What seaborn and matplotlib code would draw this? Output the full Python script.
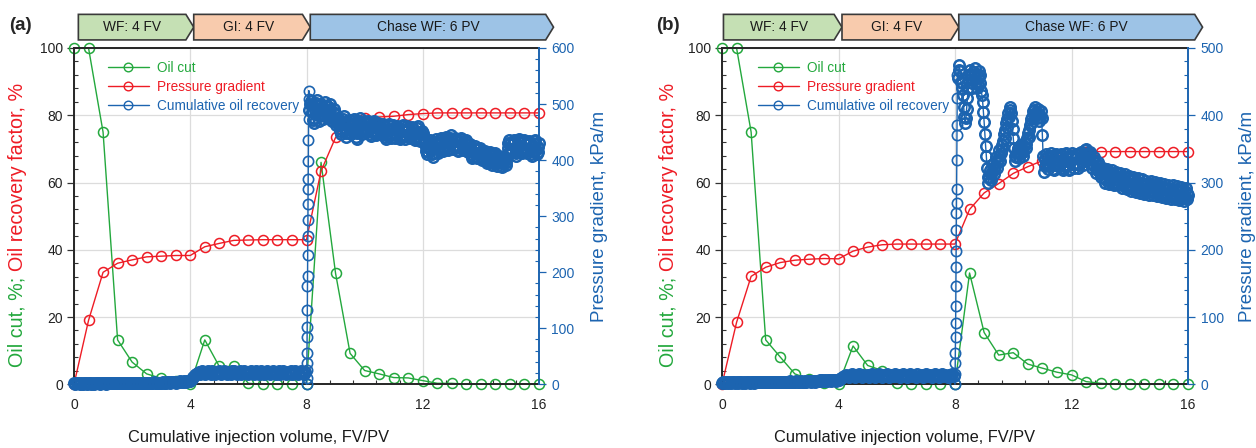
import numpy as np
import matplotlib
matplotlib.use("Agg")
import matplotlib.pyplot as plt
import matplotlib.transforms as mtransforms
from matplotlib.patches import Polygon
from matplotlib.lines import Line2D
from matplotlib.ticker import MultipleLocator
import seaborn as sns

sns.set_style("ticks")
plt.rcParams["font.family"] = ["Liberation Sans", "DejaVu Sans"]

GREEN = "#23a83d"
RED = "#ee1c25"
BLUE = "#1c64b0"

# Effluent samples, one every 0.5 FV/PV of injection
volume = np.round(np.arange(0, 16.01, 0.5), 2)

oil_cut_a = [100, 100, 75, 13.2, 6.6, 3.1, 1.8, 1.0, 0,
             13.2, 5.3, 5.3, 0.3, 0, 0, 0, 0,
             66, 33, 9.2, 4.1, 3.1, 2.0, 1.9, 1.1,
             0.3, 0.3, 0, 0, 0, 0, 0, 0]
recovery_a = [0, 19, 33.3, 36, 37, 37.9, 38.1, 38.3, 38.3,
              40.9, 41.9, 42.8, 42.9, 43, 43, 43, 43,
              63.4, 73.4, 77.5, 79.2, 79.5, 79.7, 80.2, 80.5,
              80.7, 80.7, 80.7, 80.7, 80.7, 80.7, 80.7, 80.7]
oil_cut_b = [100, 100, 75, 13.2, 8.1, 3.1, 1.5, 0.5, 0,
             11.4, 5.6, 4.1, 0.5, 0, 0, 0, 0,
             33.1, 15.4, 8.7, 9.4, 6.0, 4.8, 3.6, 2.8,
             0.8, 0.3, 0, 0, 0, 0, 0, 0]
recovery_b = [0, 18.4, 32.1, 34.8, 36.2, 36.9, 37.2, 37.4, 37.3,
              39.6, 40.8, 41.5, 41.7, 41.7, 41.7, 41.7, 41.7,
              52, 56.9, 59.7, 62.7, 64.7, 66.5, 67.9, 68.8,
              69.2, 69.2, 69.2, 69.2, 69.2, 69.2, 69.2, 69.2]

# Pressure gradient (kPa/m): WF + GI logged every 0.05 FV, a burst of readings
# at the switch to chase WF, then chase WF logged every 0.025 PV
dp_flood_a = [2, 1, 2, 2, 1, 2, 1, 2, 2, 1, 2, 2, 1, 2, 1, 2, 2, 2, 1, 2,
              2, 2, 1, 2, 2, 2, 3, 2, 2, 2, 2, 3, 2, 2, 3, 2, 2, 3, 2, 3,
              2, 3, 3, 2, 3, 3, 3, 2, 3, 3, 3, 3, 2, 3, 3, 4, 3, 3, 3, 3,
              3, 4, 3, 3, 4, 4, 3, 4, 4, 4, 3, 4, 4, 5, 4, 4, 5, 4, 5, 5,
              6, 9, 13, 16, 18, 20, 22, 19, 23, 21, 18, 22, 24, 20, 19, 23, 21, 18, 22, 20,
              23, 19, 21, 24, 20, 18, 22, 21, 19, 23, 24, 20, 18, 21, 23, 19, 22, 24, 20, 21,
              19, 22, 24, 20, 18, 23, 21, 19, 22, 24, 21, 18, 20, 23, 22, 19, 21, 24, 20, 18,
              22, 23, 19, 21, 24, 20, 18, 22, 21, 23, 19, 20, 24, 22, 18, 21, 23, 20, 19, 22]
dp_burst_a = [0, 11, 26, 38, 55, 85, 103, 133, 175, 193, 231,
              264, 294, 321, 348, 366, 399, 435, 473, 509, 524]
dp_chase_a = [490, 500, 505, 498, 485, 472, 466, 475, 490, 502, 508, 496, 480, 470, 478, 492, 500, 494, 482, 474,
              480, 492, 503, 497, 486, 476, 482, 494, 500, 490, 478, 470, 476, 486, 492, 484, 472, 462, 466, 476,
              470, 462, 452, 446, 455, 466, 474, 478, 468, 456, 448, 442, 450, 462, 472, 466, 454, 446, 452, 462,
              470, 474, 464, 452, 442, 438, 448, 460, 470, 475, 466, 454, 446, 452, 462, 470, 468, 458, 450, 456,
              464, 470, 466, 456, 447, 443, 450, 460, 468, 470, 462, 452, 445, 448, 458, 466, 464, 455, 447, 450,
              458, 464, 460, 450, 442, 438, 445, 455, 463, 465, 456, 446, 440, 444, 454, 462, 458, 448, 440, 446,
              454, 460, 458, 449, 441, 437, 444, 453, 460, 462, 454, 444, 438, 443, 452, 460, 457, 447, 440, 444,
              452, 459, 456, 447, 439, 435, 442, 451, 458, 460, 450, 440, 434, 438, 446, 452, 448, 440, 434, 430,
              424, 416, 410, 414, 424, 432, 436, 428, 418, 410, 406, 412, 422, 432, 438, 430, 420, 412, 418, 428,
              436, 440, 432, 422, 416, 420, 430, 438, 442, 436, 426, 418, 422, 432, 440, 444, 436, 426, 420, 426,
              434, 440, 436, 426, 418, 416, 424, 434, 440, 438, 428, 420, 418, 426, 434, 436, 428, 420, 414, 418,
              424, 428, 420, 410, 404, 406, 414, 422, 426, 420, 410, 403, 405, 413, 420, 422, 414, 405, 400, 404,
              412, 416, 410, 400, 394, 396, 404, 412, 414, 408, 398, 392, 394, 402, 410, 412, 404, 396, 390, 394,
              402, 408, 404, 396, 390, 388, 394, 402, 406, 400, 392, 396, 410, 422, 430, 436, 428, 418, 412, 418,
              428, 436, 432, 422, 412, 408, 416, 426, 434, 438, 430, 420, 412, 414, 424, 434, 436, 428, 418, 412,
              418, 428, 434, 430, 420, 410, 408, 416, 426, 434, 436, 428, 418, 410, 414, 424, 430]

dp_flood_b = [2, 3, 2, 3, 2, 3, 2, 3, 3, 2, 3, 2, 3, 3, 2, 3, 2, 3, 3, 2,
              3, 3, 2, 3, 3, 4, 3, 3, 4, 3, 3, 4, 3, 3, 4, 3, 4, 3, 3, 4,
              4, 3, 4, 4, 3, 4, 4, 5, 4, 4, 4, 5, 4, 4, 5, 4, 4, 5, 4, 5,
              5, 4, 5, 5, 4, 5, 5, 6, 5, 6, 5, 6, 5, 6, 6, 5, 6, 6, 5, 6,
              7, 8, 10, 11, 12, 14, 12, 11, 13, 15, 12, 11, 14, 13, 15, 12, 11, 14, 13, 12,
              14, 11, 13, 15, 12, 11, 14, 13, 15, 12, 11, 14, 12, 15, 13, 11, 14, 12, 13, 15,
              12, 14, 11, 13, 15, 12, 14, 11, 13, 15, 12, 14, 13, 11, 15, 12, 13, 14, 11, 13,
              15, 12, 13, 14, 11, 13, 15, 12, 14, 11, 13, 15, 12, 14, 13, 11, 14, 12, 15, 13]
dp_burst_b = [0, 16, 31, 46, 71, 91, 116, 146, 175, 198,
              230, 255, 270, 290, 333, 370, 385, 426, 460]
dp_chase_b = [455, 468, 474, 466, 450, 440, 448, 430, 412, 398, 388, 396, 410, 425, 440, 452, 462, 468, 460, 448,
              440, 452, 464, 470, 462, 450, 440, 446, 458, 466, 460, 448, 436, 430, 420, 405, 390, 372, 355, 340,
              322, 308, 300, 306, 318, 312, 304, 315, 328, 320, 312, 324, 338, 330, 322, 334, 348, 340, 332, 344,
              356, 350, 362, 372, 366, 378, 388, 382, 394, 404, 398, 408, 412, 404, 392, 380, 366, 352, 340, 332,
              338, 346, 352, 344, 336, 342, 350, 356, 348, 340, 346, 354, 360, 352, 358, 366, 374, 368, 378, 386,
              394, 388, 398, 406, 400, 408, 412, 404, 396, 404, 410, 402, 392, 398, 406, 396, 370, 340, 315, 325,
              335, 342, 338, 328, 320, 324, 332, 340, 344, 338, 328, 320, 318, 326, 334, 342, 340, 332, 324, 328,
              336, 342, 340, 330, 322, 318, 324, 334, 342, 344, 336, 326, 318, 320, 330, 340, 344, 338, 328, 322,
              328, 336, 342, 338, 328, 322, 326, 336, 344, 346, 338, 330, 326, 334, 342, 348, 350, 342, 334, 338,
              344, 346, 338, 328, 322, 326, 334, 338, 332, 322, 314, 318, 326, 330, 324, 314, 308, 312, 320, 322,
              316, 306, 300, 304, 314, 320, 316, 306, 298, 302, 312, 318, 314, 304, 296, 300, 310, 316, 310, 300,
              296, 302, 312, 314, 306, 296, 292, 298, 308, 312, 304, 294, 290, 296, 306, 310, 302, 292, 288, 294,
              304, 308, 300, 290, 286, 292, 302, 306, 298, 288, 284, 290, 300, 305, 298, 288, 283, 288, 298, 302,
              296, 286, 282, 288, 298, 303, 296, 286, 281, 286, 296, 301, 294, 284, 280, 285, 295, 300, 292, 283,
              279, 284, 294, 298, 290, 281, 277, 283, 292, 297, 290, 280, 276, 282, 291, 296, 289, 279, 275, 281,
              290, 295, 288, 278, 274, 280, 289, 294, 287, 277, 273, 279, 288, 292, 285, 276, 282]

phase_labels = ["WF: 4 FV", "GI: 4 FV", "Chase WF: 6 PV"]
phase_colors = ["#c5e0b4", "#f8cbad", "#9dc3e6"]
phase_tips = [4.12, 8.13, 16.5]

legend_labels = ["Oil cut", "Pressure gradient", "Cumulative oil recovery"]

W, H = 1256, 448
fig = plt.figure(figsize=(W / 100, H / 100), dpi=100)


def flood_volume(n):
    return np.round(np.arange(n) * 0.05, 3)


def burst_volume(n):
    return np.linspace(8.0, 8.08, n)


def chase_volume(n):
    return np.round(8.1 + np.arange(n) * 0.025, 3)


def add_axes_px(left, right, top, bottom):
    return fig.add_axes([left / W, 1 - bottom / H, (right - left) / W, (bottom - top) / H])


def draw_phases(ax, first_left):
    trans = mtransforms.blended_transform_factory(ax.transData, ax.transAxes)
    y0, y1 = 1.024, 1.100
    ym = (y0 + y1) / 2
    left = first_left
    for label, color, tip in zip(phase_labels, phase_colors, phase_tips):
        body = tip - 0.27
        poly = Polygon([(left, y0), (body, y0), (tip, ym), (body, y1), (left, y1)],
                       closed=True, facecolor=color, edgecolor="#3a3a3a", lw=1.2,
                       transform=trans, clip_on=False, zorder=5)
        ax.add_patch(poly)
        ax.text((left + body) / 2, ym, label, transform=trans, ha="center", va="center",
                fontsize=9.9, color="#1a1a1a", zorder=6, clip_on=False)
        left = tip


def panel(ax, oil_cut, recovery, flood, burst, chase, dp_max, tag, tag_x, first_left,
          ylab_x, y2lab_x, xlab_x, leg_x):
    line_kw = dict(marker="o", markersize=7.2, markerfacecolor="none", markeredgewidth=1.1,
                   linewidth=1.0, estimator=None, legend=False, clip_on=False)
    sns.lineplot(x=volume, y=oil_cut, ax=ax, color=GREEN, markeredgecolor=GREEN, **line_kw)
    sns.lineplot(x=volume, y=recovery, ax=ax, color=RED, markeredgecolor=RED, **line_kw)

    ax.set_xlim(0, 16)
    ax.set_ylim(0, 100)
    ax.set_xticks([0, 4, 8, 12, 16])
    ax.set_yticks(range(0, 101, 20))
    ax.xaxis.set_minor_locator(MultipleLocator(0.8))
    ax.yaxis.set_minor_locator(MultipleLocator(4))
    ax.grid(True, which="major", color="#dcdcdc", lw=0.9)
    ax.set_axisbelow(True)
    ax.set_xlabel("")
    ax.set_ylabel("")
    ax.tick_params(axis="x", which="major", direction="in", length=0, pad=10,
                   labelsize=10, labelcolor="#222222")
    ax.tick_params(axis="x", which="minor", direction="in", length=3, width=0.8, color="#333333")
    ax.tick_params(axis="y", which="major", direction="out", length=5, width=0.9, pad=3,
                   labelsize=10, labelcolor="#222222", color="#333333")
    ax.tick_params(axis="y", which="minor", direction="in", length=3, width=0.8, color="#333333")
    for side in ("left", "bottom", "top"):
        ax.spines[side].set_color("#262626")
        ax.spines[side].set_linewidth(1.4)
    ax.spines["right"].set_visible(False)

    ax2 = ax.twinx()
    fx, bx, cx = flood_volume(len(flood)), burst_volume(len(burst)), chase_volume(len(chase))
    dp_x = np.concatenate([fx, bx, cx])
    dp = list(flood) + list(burst) + list(chase)
    # whole record as one connected trace
    sns.lineplot(x=dp_x, y=dp, ax=ax2, color=BLUE, markeredgecolor=BLUE, sort=False,
                 **dict(line_kw, markersize=7.4, markeredgewidth=1.2))
    # densely logged stretches drawn with heavier rings
    for xs, ys in ((fx, flood), (cx, chase)):
        sns.lineplot(x=xs, y=ys, ax=ax2, color=BLUE, markeredgecolor=BLUE, sort=False,
                     **dict(line_kw, markersize=7.6, markeredgewidth=1.7, linestyle=""))
    ax2.set_ylim(0, dp_max)
    ax2.set_yticks(range(0, dp_max + 1, 100))
    ax2.yaxis.set_minor_locator(MultipleLocator(20))
    ax2.set_ylabel("")
    ax2.tick_params(axis="y", which="major", direction="out", length=5, width=0.9, pad=4,
                    labelsize=10, colors=BLUE)
    ax2.tick_params(axis="y", which="minor", direction="in", length=3, width=0.8, colors=BLUE)
    for side in ("left", "bottom", "top"):
        ax2.spines[side].set_visible(False)
    ax2.spines["right"].set_color(BLUE)
    ax2.spines["right"].set_linewidth(1.4)

    handles = [Line2D([], [], color=c, marker="o", mfc="none", mec=c, ms=6.2, mew=1.0, lw=1.0)
               for c in (GREEN, RED, BLUE)]
    ax2.legend(handles, legend_labels, loc="upper left", bbox_to_anchor=(leg_x, 0.962),
               frameon=False, fontsize=9.8, handlelength=3.0, handletextpad=0.6,
               labelspacing=0.36, borderpad=0, borderaxespad=0, labelcolor="linecolor")

    draw_phases(ax2, first_left)

    fig.text(tag_x / W, 1 - 26 / H, tag, fontsize=13.5, fontweight="bold", ha="center", va="center")
    fig.text(xlab_x / W, 1 - 437 / H, "Cumulative injection volume, FV/PV", fontsize=11.8,
             ha="center", va="center", color="#1a1a1a")
    fig.text(y2lab_x / W, 1 - 216 / H, "Pressure gradient, kPa/m", fontsize=13.5, rotation=90,
             ha="center", va="center", color=BLUE)

    renderer = fig.canvas.get_renderer()
    y_px = 367.0
    for text, color in (("Oil cut, %;", GREEN), ("Oil recovery factor, %", RED)):
        t = fig.text(ylab_x / W, 1 - y_px / H, text, fontsize=14.2, rotation=90,
                     ha="center", va="bottom", color=color)
        y_px -= t.get_window_extent(renderer).height + 0.28 * 14.2 * 100 / 72


ax_a = add_axes_px(74, 539, 48, 384.3)
ax_b = add_axes_px(722, 1188, 48, 384.3)

panel(ax_a, oil_cut_a, recovery_a, dp_flood_a, dp_burst_a, dp_chase_a, 600, "(a)", 20, 0.15,
      17.5, 600, 258, 0.073)
panel(ax_b, oil_cut_b, recovery_b, dp_flood_b, dp_burst_b, dp_chase_b, 500, "(b)", 668, 0.05,
      668, 1247, 905, 0.077)

fig.savefig("out.png", dpi=100)
